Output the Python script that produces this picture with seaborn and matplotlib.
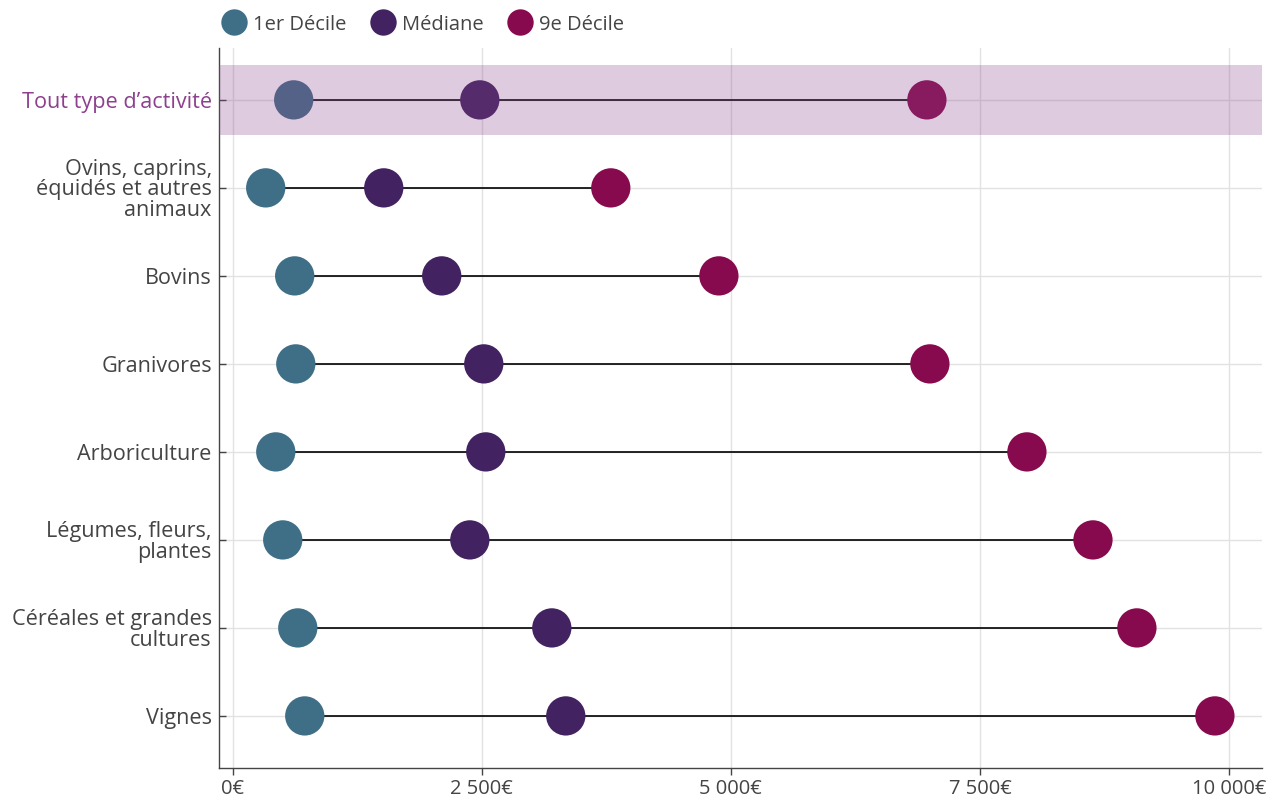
import numpy as np
import pandas as pd
import seaborn as sns
import matplotlib.pyplot as plt
from matplotlib.lines import Line2D
from matplotlib.ticker import FuncFormatter

activites = ["Tout type d\u2019activité",
             "Ovins, caprins,\néquidés et autres\nanimaux",
             "Bovins",
             "Granivores",
             "Arboriculture",
             "Légumes, fleurs,\nplantes",
             "Céréales et grandes\ncultures",
             "Vignes"]
decile1 = [612, 331, 622, 633, 432, 502, 653, 723]
mediane = [2480, 1516, 2098, 2520, 2540, 2380, 3203, 3343]
decile9 = [6968, 3795, 4880, 6998, 7972, 8635, 9076, 9859]

series = ["1er Décile", "Médiane", "9e Décile"]
couleurs = ["#3f6e87", "#422260", "#870a4e"]

df = pd.DataFrame({"activite": activites * 3,
                   "valeur": decile1 + mediane + decile9,
                   "serie": np.repeat(series, len(activites))})

sns.set_theme(style="whitegrid")
plt.rcParams['font.family'] = ['Open Sans', 'DejaVu Sans']

fig, ax = plt.subplots(figsize=(12.72, 7.99), dpi=100)
fig.subplots_adjust(left=0.172, right=0.992, top=0.94, bottom=0.039)

# segments entre 1er et 9e décile
ax.hlines(activites, decile1, decile9, color="black", lw=1.2, zorder=2)

sns.scatterplot(data=df, x="valeur", y="activite", hue="serie",
                palette=dict(zip(series, couleurs)), s=800, linewidth=0,
                legend=False, zorder=3, ax=ax)

# mise en avant de la ligne "Tout type"
ax.axhspan(-0.4, 0.4, color="#8d458d", alpha=0.28, lw=0, zorder=4)

ax.set_xlim(-140, 10330)
ax.set_ylim(7.59, -0.59)
ax.set_xticks([0, 2500, 5000, 7500, 10000])
ax.xaxis.set_major_formatter(FuncFormatter(
    lambda v, p: "{:,.0f}€".format(v).replace(",", " ")))
ax.set_xlabel("")
ax.set_ylabel("")

ax.grid(True, color="#e2e2e2", lw=1)
for s in ["top", "right"]:
    ax.spines[s].set_visible(False)
for s in ["left", "bottom"]:
    ax.spines[s].set_color("#444444")
    ax.spines[s].set_linewidth(1)
ax.tick_params(axis="both", which="major", length=5, width=1, color="#444444",
               labelcolor="#444444", left=True, bottom=True)
ax.tick_params(axis="y", direction="in", pad=5, labelsize=15.6)
ax.tick_params(axis="x", direction="out", pad=3, labelsize=14.5)
for lab in ax.get_yticklabels():
    lab.set_linespacing(0.95)
ax.get_yticklabels()[0].set_color("#8e3f8e")

handles = [Line2D([], [], marker="o", ls="", markersize=19, color=c,
                  markeredgewidth=0) for c in couleurs]
fig.legend(handles, series, loc="center left", ncol=3, frameon=False,
           bbox_to_anchor=(0.1745, 1 - 24.5 / 799), fontsize=14.5,
           handlelength=1.2, handletextpad=0.35, columnspacing=1.2,
           labelcolor="#444444", borderaxespad=0, borderpad=0)

fig.savefig("out.png", dpi=100)
